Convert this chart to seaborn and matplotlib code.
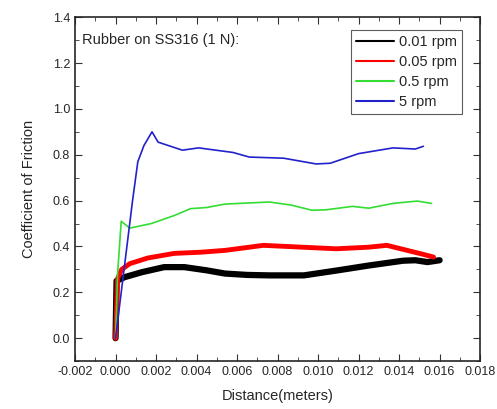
import pandas as pd
import matplotlib.pyplot as plt
import seaborn as sns
from matplotlib.lines import Line2D
from matplotlib.ticker import MultipleLocator

# values (distance in m, coefficient of friction)
x_001 = [0, 0.00005, 0.00044, 0.0013, 0.0024, 0.0034, 0.0045, 0.0054, 0.0065, 0.0076,
         0.0093, 0.0109, 0.0125, 0.0142, 0.0148, 0.0154, 0.016]
y_001 = [0, 0.25, 0.266, 0.288, 0.31, 0.31, 0.296, 0.282, 0.276, 0.274,
         0.274, 0.295, 0.317, 0.338, 0.34, 0.332, 0.34]

x_005 = [0, 0.0001, 0.0003, 0.0007, 0.0016, 0.0029, 0.0042, 0.0054, 0.0073, 0.0092,
         0.0109, 0.0125, 0.0134, 0.0144, 0.015, 0.0157]
y_005 = [0, 0.26, 0.30, 0.325, 0.35, 0.37, 0.375, 0.383, 0.405, 0.397,
         0.39, 0.397, 0.405, 0.383, 0.37, 0.354]

x_05 = [0, 0.0001, 0.00028, 0.0007, 0.00176, 0.0029, 0.0037, 0.0045, 0.0054, 0.0076,
        0.0087, 0.0097, 0.0104, 0.0117, 0.0125, 0.0137, 0.0149, 0.0156]
y_05 = [0, 0.28, 0.51, 0.48, 0.50, 0.535, 0.565, 0.57, 0.585, 0.594,
        0.58, 0.558, 0.56, 0.575, 0.567, 0.588, 0.598, 0.588]

x_5 = [0, 0.00084, 0.0011, 0.0014, 0.0018, 0.0021, 0.0033, 0.0041, 0.0058, 0.0066, 0.0083,
       0.0099, 0.0106, 0.012, 0.0137, 0.0148, 0.0152]
y_5 = [0, 0.60, 0.77, 0.84, 0.90, 0.855, 0.82, 0.83, 0.81, 0.79, 0.785,
       0.76, 0.763, 0.805, 0.83, 0.825, 0.837]

labels = ['0.01 rpm', '0.05 rpm', '0.5 rpm', '5 rpm']
colors = ['black', '#ff0000', '#33dd33', '#2222cc']
widths = [4.5, 3.5, 1.2, 1.2]

sns.set_style('ticks')
plt.rcParams['font.family'] = ['Liberation Sans', 'DejaVu Sans']

fig = plt.figure(figsize=(4.97, 4.09), dpi=100)
ax = fig.add_axes([0.151, 0.117, 0.815, 0.841])

series = [(x_001, y_001), (x_005, y_005), (x_05, y_05), (x_5, y_5)]
for (xs, ys), c, w in zip(series, colors, widths):
    df = pd.DataFrame({'x': xs, 'y': ys})
    sns.lineplot(data=df, x='x', y='y', sort=False, color=c, lw=w, ax=ax)

ax.set_xlim(-0.002, 0.018)
ax.set_ylim(-0.1, 1.4)
ax.xaxis.set_major_locator(MultipleLocator(0.002))
ax.xaxis.set_minor_locator(MultipleLocator(0.001))
ax.yaxis.set_major_locator(MultipleLocator(0.2))
ax.yaxis.set_minor_locator(MultipleLocator(0.1))
ax.xaxis.set_major_formatter(plt.FuncFormatter(lambda v, p: f'{v:.3f}'))
ax.yaxis.set_major_formatter(plt.FuncFormatter(lambda v, p: f'{v:.1f}'))
ax.tick_params(which='both', direction='in', top=True, right=True, labelsize=9, color='#333333')
ax.tick_params(which='major', length=5)
ax.tick_params(which='minor', length=3)
for s in ax.spines.values():
    s.set_linewidth(1.2)

ax.set_xlabel('Distance(meters)', fontsize=10.5, labelpad=8)
ax.set_ylabel('Coefficient of Friction', fontsize=10.5, labelpad=12)
ax.text(0.018, 0.955, 'Rubber on SS316 (1 N):', transform=ax.transAxes, fontsize=10.5, va='top')

handles = [Line2D([], [], color=c, lw=1.5) for c in colors]
leg = ax.legend(handles, labels, loc='upper right', bbox_to_anchor=(0.955, 0.962), fontsize=10.5,
                frameon=True, fancybox=False, edgecolor='#333333', handlelength=2.6,
                handletextpad=0.3, labelspacing=0.4, borderpad=0.35, borderaxespad=0)
leg.get_frame().set_linewidth(0.8)

fig.savefig('out.png', dpi=100)
